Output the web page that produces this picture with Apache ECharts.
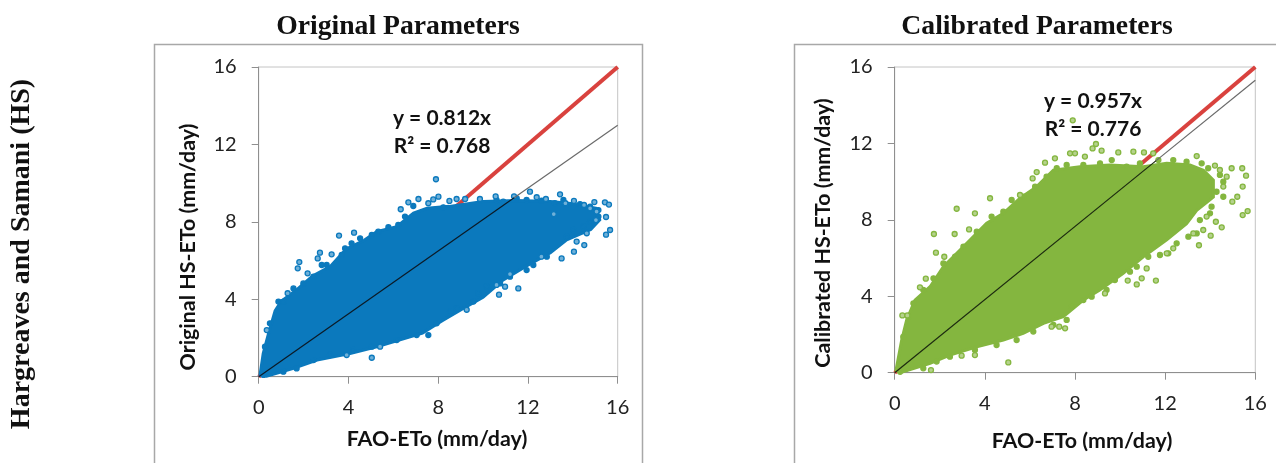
<!DOCTYPE html>
<html>
<head>
<meta charset="utf-8">
<title>HS ETo scatter</title>
<script src="https://cdn.jsdelivr.net/npm/echarts@6/dist/echarts.min.js"></script>
<style>
  html, body { margin: 0; padding: 0; background: #fff; }
  #main { width: 1276px; height: 463px; }
</style>
</head>
<body>
<div id="main"></div>
<script>
// slope lines
var oneToOne = [[0, 0], [16, 16]];
var origTrendInner = [[0, 0], [11.4, 9.26]];
var origTrendOuter = [[11.4, 9.26], [16, 12.99]];
var calTrendInner = [[0, 0], [11.6, 11.1]];
var calTrendOuter = [[11.6, 11.1], [16, 15.31]];

// edge of the dense point cloud
var origCloud = [
  [0.06, 0.09], [0.2, 1.2], [0.43, 2.2], [0.73, 3.4], [1.0, 3.9], [1.7, 4.5], [2.4, 5.2], [3.2, 5.7],
  [3.9, 6.6], [4.7, 7.05], [5.26, 7.5], [6.15, 7.75], [6.9, 8.45], [7.5, 8.7], [8.5, 8.8], [10, 9.05],
  [11.5, 9.1], [13, 9.05], [13.9, 8.95], [15.05, 8.7], [15.2, 8.1], [14.8, 7.6], [13.7, 7.05], [13, 6.4],
  [11.9, 5.7], [10.9, 5.0], [10, 4.1], [9, 3.45], [8.2, 2.9], [7.3, 2.25], [6.3, 1.9], [5.26, 1.55],
  [4.07, 1.2], [2.6, 0.86], [1.55, 0.43], [0.35, 0.03]
];
var calCloud = [
  [0.06, 0.14], [0.31, 1.71], [0.53, 2.76], [0.9, 3.8], [1.57, 4.5], [2.16, 5.55], [2.6, 6.07], [3.34, 6.94],
  [4.08, 7.82], [4.82, 8.34], [5.56, 9.13], [6.3, 9.74], [7.04, 10.6], [8.22, 10.78], [9.55, 10.87], [11.03, 10.78],
  [12.07, 10.96], [13.1, 10.87], [13.7, 10.6], [14.14, 10.08], [14.14, 9.2], [13.4, 8.5], [12.95, 7.8], [12.07, 6.95],
  [11.03, 6.07], [10.14, 5.2], [9.1, 4.33], [8.37, 3.8], [7.48, 2.93], [6.6, 2.58], [5.7, 2.06], [4.82, 1.71],
  [3.64, 1.36], [2.45, 0.92], [1.57, 0.49], [0.38, 0.05]
];

// stray points outside the cloud
var origPoints = [
  [7.90, 10.20], [12.09, 9.56], [13.43, 9.42], [10.56, 9.32], [11.38, 9.32], [12.39, 9.27], [15.43, 9.01], [15.61, 8.89],
  [14.96, 9.02], [15.48, 8.25], [15.66, 7.58], [15.48, 7.34], [14.51, 6.80], [14.05, 6.46], [13.50, 6.11], [14.17, 6.98],
  [14.62, 7.41], [11.57, 4.56], [10.71, 4.24], [10.98, 4.65], [10.6, 4.74], [9.27, 3.46], [5.04, 0.98], [3.92, 1.12],
  [5.41, 1.55], [0.36, 2.41], [3.58, 7.29], [4.25, 7.44], [2.73, 6.41], [2.63, 6.11], [3.25, 6.32], [1.81, 5.92],
  [1.74, 5.60], [2.18, 5.34], [1.29, 4.31], [6.33, 8.65], [6.67, 9.01], [7.12, 9.18], [7.56, 8.96], [7.78, 9.16],
  [8.01, 9.30], [8.5, 9.08], [8.82, 9.18], [9.2, 9.18], [9.86, 9.18], [12.8, 9.18], [14.05, 9.08], [15.06, 8.53],
  [15.03, 8.09], [14.77, 8.7], [14.5, 8.87], [13.67, 8.96], [13.15, 8.4], [12.6, 6.2], [11.2, 5.3]
];
var calPoints = [
  [7.90, 13.21], [8.93, 11.97], [8.78, 11.74], [9.18, 11.62], [7.78, 11.48], [8.00, 11.48], [8.44, 11.31], [6.67, 10.99],
  [7.11, 11.22], [9.92, 11.53], [10.59, 11.57], [11.06, 11.53], [11.47, 11.48], [13.40, 11.34], [14.21, 10.84], [14.95, 10.70],
  [15.42, 10.70], [15.59, 10.31], [15.44, 9.74], [15.20, 9.21], [15.44, 8.25], [15.66, 8.46], [14.98, 8.95], [14.51, 7.61],
  [14.25, 7.90], [14.02, 7.17], [13.50, 6.67], [11.59, 4.82], [10.74, 4.62], [10.34, 4.82], [10.96, 4.94], [11.18, 5.46],
  [9.33, 4.15], [6.30, 10.50], [6.12, 10.17], [5.56, 9.30], [4.23, 9.13], [2.75, 8.58], [3.56, 8.34], [1.74, 7.26],
  [2.66, 7.26], [3.30, 7.50], [1.83, 6.28], [2.20, 6.07], [1.38, 4.92], [1.12, 4.47], [0.34, 3.00], [0.56, 3.00],
  [1.61, 0.14], [5.04, 0.54], [3.56, 0.92], [2.97, 0.89], [7.56, 2.32], [7.30, 2.41], [6.96, 2.41],
  [14.58, 9.74], [14.73, 10.26], [14.43, 10.61], [13.84, 8.17], [13.69, 7.47], [13.25, 7.29], [12.36, 6.51], [12.07, 6.25]
];

// points that make the rough rim of each cloud
var origRim = [
  [0.28, 1.55], [0.5, 2.76], [0.88, 3.88], [1.1, 3.88], [1.55, 4.56], [1.99, 4.82], [2.44, 5.17], [2.81, 5.77],
  [3.03, 5.77], [3.7, 6.29], [3.85, 6.63], [4.14, 6.89], [4.52, 7.15], [5.04, 7.32], [5.33, 7.49], [5.78, 7.72],
  [6.22, 7.84], [6.52, 8.27], [6.89, 8.82], [8.23, 8.75], [10.6, 9.13], [10.9, 9.04], [11.5, 9.21], [11.94, 9.13],
  [12.61, 9.09], [13.2, 8.96], [13.58, 9.13], [14.32, 8.92], [14.77, 8.78], [15.14, 8.61], [15.14, 8.27], [14.77, 8.01],
  [14.47, 7.75], [14.02, 7.58], [13.73, 7.23], [12.84, 6.2], [12.24, 5.77], [11.94, 5.51], [11.2, 5.17], [10.76, 4.82],
  [10.16, 4.65], [9.79, 4.31], [9.57, 3.88], [8.82, 3.53], [8.53, 3.36], [7.93, 2.76], [7.56, 2.15], [7.04, 2.15],
  [6.15, 1.89], [5.04, 1.55], [4.22, 1.38], [3.18, 1.12], [2.44, 0.86], [1.69, 0.43], [1.1, 0.26], [0.21, 0.09]
];
var calRim = [
  [0.38, 1.88], [0.61, 2.93], [0.83, 3.63], [1.27, 4.33], [1.72, 4.94], [2.16, 5.72], [2.68, 6.07], [3.05, 6.6],
  [3.64, 7.38], [4.3, 8.17], [4.82, 8.43], [5.19, 9.04], [5.71, 9.21], [6.23, 9.74], [6.74, 10.26], [7.19, 10.7],
  [7.63, 10.87], [8.37, 10.87], [9.11, 10.96], [9.63, 11.13], [10.29, 10.78], [10.88, 10.96], [11.7, 11.13], [12.36, 11.13],
  [12.95, 11.04], [13.62, 10.96], [13.91, 10.7], [14.43, 10.35], [14.58, 10], [14.28, 9.47], [14.58, 9.21], [14.06, 8.69],
  [13.99, 8.34], [13.54, 7.99], [13.4, 7.29], [13.03, 7.12], [12.51, 6.77], [12.14, 6.25], [11.77, 6.16], [11.25, 6.07],
  [10.74, 5.55], [10.44, 5.29], [9.77, 4.85], [9.4, 4.33], [8.74, 3.98], [8.37, 3.8], [7.85, 3.45], [7.63, 2.76],
  [7.04, 2.5], [6.15, 2.15], [5.41, 1.71], [4.52, 1.45], [3.56, 1.19], [2.45, 0.84], [1.86, 0.58], [1.27, 0.23], [0.24, 0.05]
];

var sans = 'Lato, "Open Sans", sans-serif';
var serif = '"Liberation Serif", serif';
var blue = '#0b79bd';
var green = '#84b63f';

function axis(gridIndex, margin) {
  return {
    type: 'value', gridIndex: gridIndex, min: 0, max: 16, interval: 4,
    axisLine: { show: true, onZero: false, lineStyle: { color: '#8f8f8f', width: 1 } },
    axisTick: { show: true, length: 7, lineStyle: { color: '#8f8f8f' } },
    axisLabel: { color: '#222', fontFamily: sans, fontSize: 20, margin: margin, hideOverlap: false },
    splitLine: { show: false }
  };
}

function lineSeries(idx, data, color, width, z) {
  return {
    type: 'line', xAxisIndex: idx, yAxisIndex: idx, data: data, showSymbol: false, silent: true,
    lineStyle: { color: color, width: width }, z: z
  };
}

function cloudSeries(idx, outline, color) {
  return {
    type: 'custom', xAxisIndex: idx, yAxisIndex: idx, data: outline, silent: true, z: 3,
    encode: { x: 0, y: 1 },
    renderItem: function (params, api) {
      if (params.dataIndex !== 0) return;
      return {
        type: 'polygon',
        shape: { points: outline.map(function (p) { return api.coord(p); }) },
        style: { fill: color, stroke: color, lineWidth: 3 }
      };
    }
  };
}

function pointSeries(idx, data, color, fill) {
  return {
    type: 'scatter', xAxisIndex: idx, yAxisIndex: idx, data: data, symbol: 'circle', symbolSize: 5, silent: true, z: 4,
    itemStyle: { color: fill, borderColor: color, borderWidth: 1.3, opacity: 1 }
  };
}

function label(x, y, text, font, size, rotation) {
  return {
    type: 'text', x: x, y: y, rotation: rotation || 0, silent: true,
    style: { text: text, fontFamily: font, fontSize: size, fontWeight: 'bold', fill: '#111', align: 'center', verticalAlign: 'middle' }
  };
}

function frame(x, width) {
  return {
    type: 'rect', silent: true, z: -1,
    shape: { x: x, y: 44.5, width: width, height: 480 },
    style: { fill: 'none', stroke: '#a8a8a8', lineWidth: 1.5 }
  };
}

var chart = echarts.init(document.getElementById('main'), null, { renderer: 'canvas' });
chart.setOption({
  animation: false,
  backgroundColor: '#fff',
  grid: [
    { left: 258.7, top: 67, width: 359, height: 309.7, show: true, borderColor: '#c4c4c4', borderWidth: 1, backgroundColor: 'transparent' },
    { left: 894.7, top: 67, width: 360.6, height: 305.7, show: true, borderColor: '#c4c4c4', borderWidth: 1, backgroundColor: 'transparent' }
  ],
  xAxis: [axis(0, 21), axis(1, 21)],
  yAxis: [axis(0, 22), axis(1, 22)],
  series: [
    lineSeries(0, oneToOne, '#d9423e', 4, 2),
    cloudSeries(0, origCloud, blue),
    pointSeries(0, origRim, blue, blue),
    pointSeries(0, origPoints, blue, '#6fb0d8'),
    lineSeries(0, origTrendInner, '#0c1a26', 1.2, 5),
    lineSeries(0, origTrendOuter, '#6a6a6a', 1.2, 5),

    lineSeries(1, oneToOne, '#d9423e', 4, 2),
    cloudSeries(1, calCloud, green),
    pointSeries(1, calRim, green, green),
    pointSeries(1, calPoints, green, '#b5d28c'),
    lineSeries(1, calTrendInner, '#1c2a10', 1.2, 5),
    lineSeries(1, calTrendOuter, '#6a6a6a', 1.2, 5)
  ],
  graphic: [
    frame(154.5, 488),
    frame(794.5, 600),
    label(398, 26.5, 'Original Parameters', serif, 27.7),
    label(1037, 26.5, 'Calibrated Parameters', serif, 27.7),
    label(22, 254, 'Hargreaves and Samani (HS)', serif, 28, Math.PI / 2),
    label(188, 247, 'Original HS-ETo (mm/day)', sans, 21.4, Math.PI / 2),
    label(823, 233, 'Calibrated HS-ETo (mm/day)', sans, 21.4, Math.PI / 2),
    label(437, 439, 'FAO-ETo (mm/day)', sans, 21.4),
    label(1082, 441, 'FAO-ETo (mm/day)', sans, 21.4),
    label(442, 118, 'y = 0.812x', sans, 21),
    label(442, 146, 'R² = 0.768', sans, 21),
    label(1093, 101, 'y = 0.957x', sans, 21),
    label(1093, 129, 'R² = 0.776', sans, 21)
  ]
});
</script>
</body>
</html>
